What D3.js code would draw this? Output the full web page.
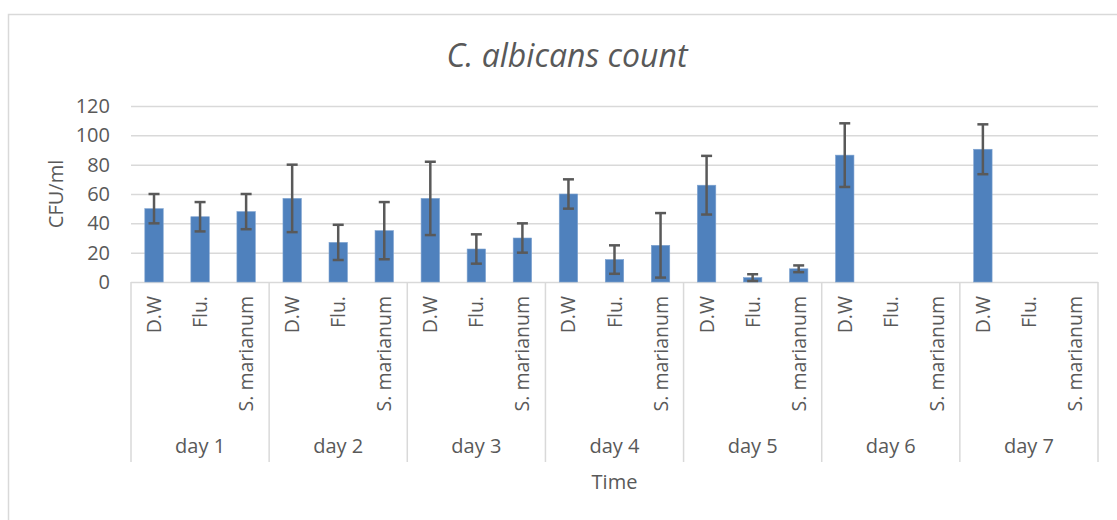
<!DOCTYPE html>
<html>
<head>
<meta charset="utf-8">
<script src="https://cdn.jsdelivr.net/npm/d3@7"></script>
<style>
  body { margin: 0; background: #fff; }
  text { font-family: "Open Sans", sans-serif; fill: #595959; }
</style>
</head>
<body>
<div class="chart_area"></div>
<script>
// data
var days = ["day 1", "day 2", "day 3", "day 4", "day 5", "day 6", "day 7"];
var treatments = ["D.W", "Flu.", "S. marianum"];
var dw = [50, 57, 57, 60, 66, 86.5, 90.5];
var flu = [44.5, 27, 22.5, 15.3, 3, 0, 0];
var sm = [48, 35, 30, 25, 9, 0, 0];
var dwErr = [10, 23, 25, 10, 20, 21.7, 17];
var fluErr = [10, 12, 10, 9.7, 2.3, 0, 0];
var smErr = [12, 19.5, 10, 22, 2.3, 0, 0];
var yTicks = [0, 20, 40, 60, 80, 100, 120];

var width = 1117, height = 520;
var plot = { left: 131, right: 1098, top: 106, bottom: 282 };
var labelSize = "20px";

var svg = d3.select(".chart_area")
    .append("svg")
    .attr("width", width)
    .attr("height", height);

// chart border
svg.append("rect")
    .attr("x", 8.5).attr("y", 14.5)
    .attr("width", width + 20).attr("height", height + 20)
    .attr("fill", "none")
    .attr("stroke", "#d9d9d9")
    .attr("stroke-width", 1.5);

// build rows
var rows = [];
for (i = 0; i < days.length; i++) {
    rows.push({ day: days[i], t: treatments[0], v: dw[i], e: dwErr[i] });
    rows.push({ day: days[i], t: treatments[1], v: flu[i], e: fluErr[i] });
    rows.push({ day: days[i], t: treatments[2], v: sm[i], e: smErr[i] });
}

var x0 = d3.scaleBand()
    .domain(days)
    .range([plot.left, plot.right]);

var x1 = d3.scaleBand()
    .domain(treatments)
    .range([0, x0.bandwidth()])
    .paddingInner(0.6)
    .paddingOuter(0.3);

var y = d3.scaleLinear()
    .domain([0, 120])
    .range([plot.bottom, plot.top]);

// grid + y labels
var y_axis = svg.append("g")
    .attr("class", "y-axis")
    .attr("transform", "translate(" + plot.left + ",0)")
    .call(d3.axisLeft(y).tickValues(yTicks)
        .tickSize(-(plot.right - plot.left))
        .tickPadding(21));

y_axis.select(".domain").remove();
y_axis.selectAll("line")
    .style("stroke", "#d9d9d9")
    .style("stroke-width", 1.5);
y_axis.selectAll("text")
    .style("fill", "#595959")
    .style("font-size", labelSize)
    .style("font-family", "Open Sans");

// day separators
var sepX = days.map(function (d) { return x0(d); });
sepX.push(x0(days[days.length - 1]) + x0.bandwidth());
svg.append("g")
    .selectAll("line")
    .data(sepX)
    .enter()
    .append("line")
    .attr("x1", function (d) { return d; })
    .attr("x2", function (d) { return d; })
    .attr("y1", plot.bottom)
    .attr("y2", 462)
    .style("stroke", "#d9d9d9")
    .style("stroke-width", 1.5);

// bars
var barRows = rows.filter(function (d) { return d.v > 0; });
svg.append("g")
    .selectAll("rect")
    .data(barRows)
    .enter()
    .append("rect")
    .attr("class", "bar_rect")
    .attr("x", function (d) { return x0(d.day) + x1(d.t); })
    .attr("y", function (d) { return y(d.v); })
    .attr("width", x1.bandwidth())
    .attr("height", function (d) { return y(0) - y(d.v); })
    .attr("fill", "#4f81bd")
    .attr("stroke", "#7fa3d0")
    .attr("stroke-width", 0.6);

// error bars
var eg = svg.append("g")
    .selectAll("g")
    .data(barRows)
    .enter()
    .append("g")
    .attr("transform", function (d) {
        return "translate(" + (x0(d.day) + x1(d.t) + x1.bandwidth() / 2) + ",0)";
    });

eg.append("line")
    .attr("x1", 0).attr("x2", 0)
    .attr("y1", function (d) { return y(d.v + d.e); })
    .attr("y2", function (d) { return y(Math.max(d.v - d.e, 0)); })
    .style("stroke", "#595959")
    .style("stroke-width", 2.5);

eg.append("line")
    .attr("x1", -5.5).attr("x2", 5.5)
    .attr("y1", function (d) { return y(d.v + d.e); })
    .attr("y2", function (d) { return y(d.v + d.e); })
    .style("stroke", "#595959")
    .style("stroke-width", 2.5);

eg.append("line")
    .attr("x1", -5.5).attr("x2", 5.5)
    .attr("y1", function (d) { return y(Math.max(d.v - d.e, 0)); })
    .attr("y2", function (d) { return y(Math.max(d.v - d.e, 0)); })
    .style("stroke", "#595959")
    .style("stroke-width", 2.5);

// treatment labels, one small axis per day
days.forEach(function (day) {
    var g = svg.append("g")
        .attr("class", "x-axis_t")
        .attr("transform", "translate(" + x0(day) + "," + plot.bottom + ")")
        .call(d3.axisBottom(x1).tickSize(0));
    g.select(".domain").remove();
    g.selectAll("text")
        .attr("transform", "rotate(-90)")
        .attr("x", -14)
        .attr("y", 0)
        .attr("dy", "0.36em")
        .style("text-anchor", "end")
        .style("fill", "#595959")
        .style("font-size", "19.5px")
        .style("font-family", "Open Sans");
});

// day labels
var x_axis_day = svg.append("g")
    .attr("class", "x-axis_d")
    .attr("transform", "translate(0,446)")
    .call(d3.axisBottom(x0).tickSize(0).tickPadding(0));
x_axis_day.select(".domain").remove();
x_axis_day.selectAll("text")
    .attr("y", 0)
    .attr("dy", "0.36em")
    .style("fill", "#595959")
    .style("font-size", labelSize)
    .style("font-family", "Open Sans");

// titles
svg.append("text")
    .attr("x", 567)
    .attr("y", 67)
    .attr("text-anchor", "middle")
    .style("font-size", "32px")
    .style("font-style", "italic")
    .text("C. albicans count");

svg.append("text")
    .attr("x", (plot.left + plot.right) / 2)
    .attr("y", 482)
    .attr("dy", "0.36em")
    .attr("text-anchor", "middle")
    .style("font-size", labelSize)
    .text("Time");

svg.append("text")
    .attr("transform", "translate(56," + (plot.top + plot.bottom) / 2 + ") rotate(-90)")
    .attr("dy", "0.36em")
    .attr("text-anchor", "middle")
    .style("font-size", labelSize)
    .text("CFU/ml");
</script>
</body>
</html>
